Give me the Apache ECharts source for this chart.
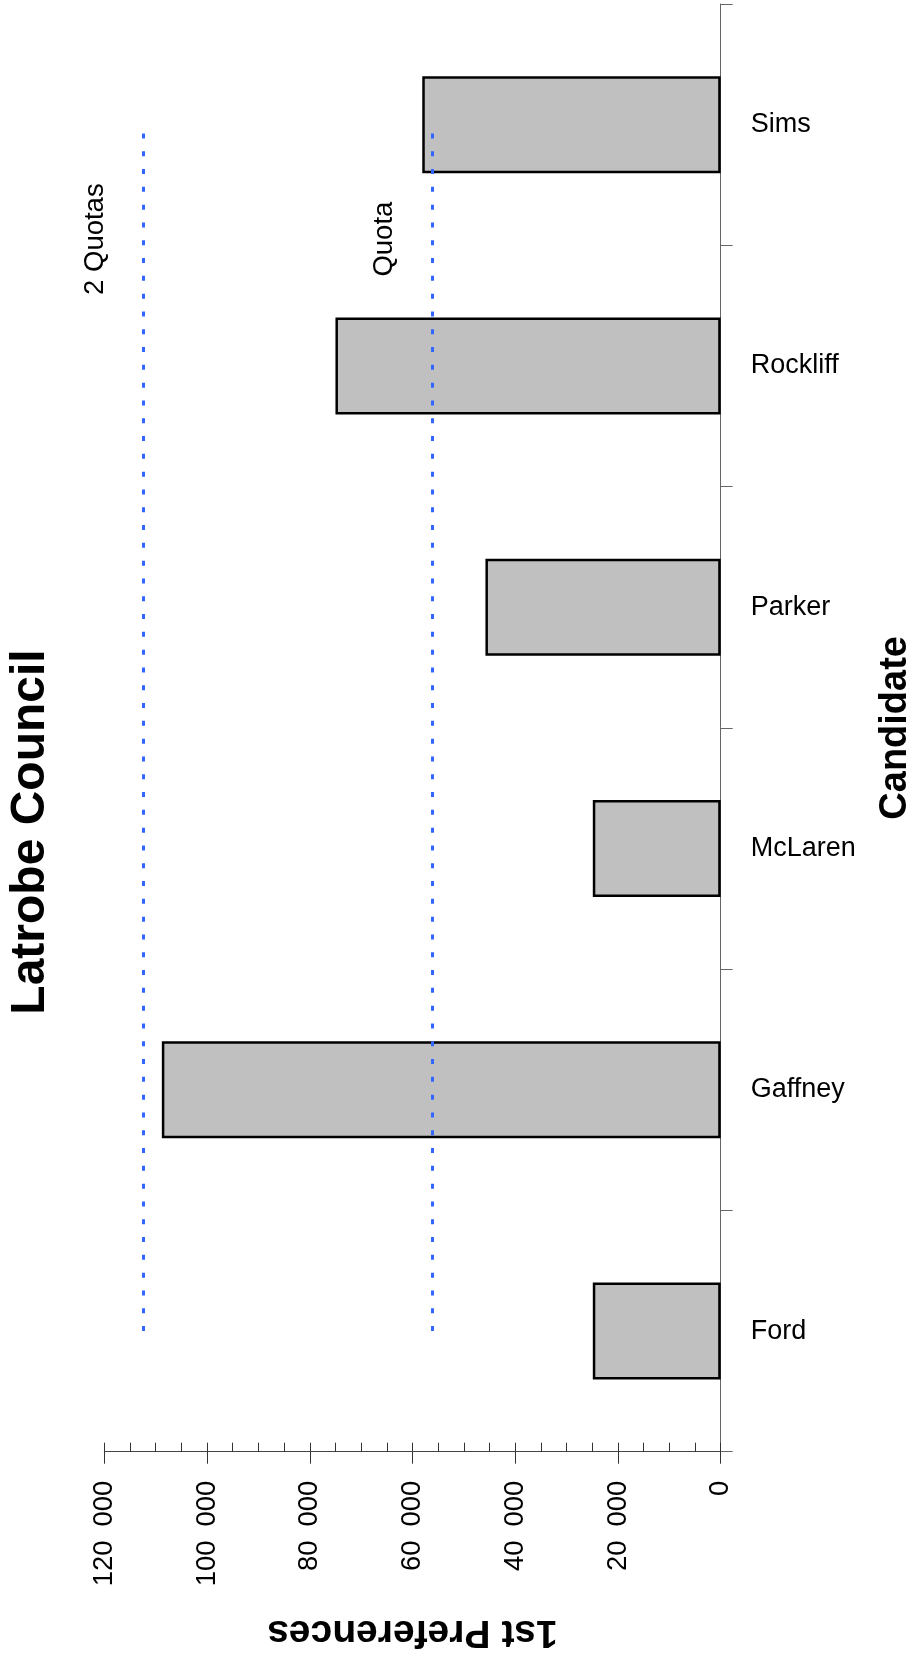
<!DOCTYPE html>
<html><head><meta charset="utf-8">
<script src="https://cdn.jsdelivr.net/npm/echarts@6/dist/echarts.min.js"></script>
<style>html,body{margin:0;padding:0;background:#fff}#c{width:919px;height:1659px}</style>
</head><body><div id="c"></div>
<script>
// ---- data ----
const categories = ['Ford', 'Gaffney', 'McLaren', 'Parker', 'Rockliff', 'Sims'];
const firstPreferences = [24900, 108800, 24900, 45800, 75000, 58100];
const quotaNames = ['Quota', '2 Quotas'];
const quotaValues = [56250, 112500];
const tickValues = [0, 20000, 40000, 60000, 80000, 100000, 120000];
const tickLabels = ['0', '20\u2002000', '40\u2002000', '60\u2002000', '80\u2002000', '100\u2002000', '120\u2002000'];
const chartTitle = 'Latrobe Council';
const valueAxisTitle = '1st Preferences';
const categoryAxisTitle = 'Candidate';

const NARROW = "'Liberation Sans Narrow','Arial Narrow','Liberation Sans',Arial,sans-serif";
const SANS = "'Liberation Sans',Arial,sans-serif";

const chart = echarts.init(document.getElementById('c'), null, {renderer: 'canvas'});
const vMin = tickValues[0], vMax = tickValues[tickValues.length - 1], vStep = tickValues[1] - tickValues[0];

chart.setOption({
  animation: false,
  backgroundColor: '#ffffff',
  grid: {left: 104.3, right: 198.3, top: 4, bottom: 207.3, containLabel: false},
  xAxis: [{
    type: 'value', position: 'bottom', inverse: true,
    min: vMin, max: vMax, interval: vStep,
    axisLine: {show: true, onZero: false, lineStyle: {color: '#444', width: 1}},
    axisTick: {show: true, inside: true, length: 9, lineStyle: {color: '#333', width: 1}},
    minorTick: {show: true, splitNumber: 4, length: 9, lineStyle: {color: '#333', width: 1}},
    splitLine: {show: false},
    axisLabel: {
      rotate: 90, margin: 29, color: '#000', fontFamily: NARROW, fontSize: 27.5,
      formatter: function (v) { const i = tickValues.indexOf(v); return i >= 0 ? tickLabels[i] : ''; }
    }
  }, {
    type: 'value', position: 'bottom', inverse: true,
    min: vMin, max: vMax, interval: vStep,
    axisLine: {show: false},
    axisTick: {show: true, inside: false, length: 12, lineStyle: {color: '#333', width: 1}},
    splitLine: {show: false},
    axisLabel: {show: false}
  }],
  yAxis: {
    type: 'category', data: categories, position: 'right', boundaryGap: true,
    axisLine: {show: true, onZero: false, lineStyle: {color: '#666', width: 1}},
    axisTick: {show: true, inside: false, length: 12, lineStyle: {color: '#666', width: 1}},
    splitLine: {show: false},
    axisLabel: {margin: 30, color: '#000', fontFamily: NARROW, fontSize: 27}
  },
  series: [{
    type: 'bar', xAxisIndex: 0, yAxisIndex: 0,
    data: firstPreferences, barWidth: 97,
    itemStyle: {color: '#c0c0c0', borderColor: '#000', borderWidth: 2.5},
    markLine: {
      silent: true, symbol: ['none', 'none'],
      label: {show: false},
      lineStyle: {color: '#3366ff', width: 3, type: [5, 12.8], opacity: 1},
      data: quotaValues.map(v => [{coord: [v, 0]}, {coord: [v, categories.length - 1]}])
    }
  }]
});

function txt(text, x, y, rot, font) {
  return {
    type: 'text', x: x, y: y, rotation: rot, silent: true,
    style: {text: text, font: font, fill: '#000', align: 'center', verticalAlign: 'middle',
            textAlign: 'center', textVerticalAlign: 'middle'}
  };
}
const topCat = chart.convertToPixel({gridIndex: 0}, [0, categories.length - 1]);
const botCat = chart.convertToPixel({gridIndex: 0}, [0, 0]);
const midY = (topCat[1] + botCat[1]) / 2;
const midVal = chart.convertToPixel({gridIndex: 0}, [(vMin + vMax) / 2, 0]);
const graphics = [
  txt(chartTitle, 30.5, 832, Math.PI / 2, 'bold 48px ' + SANS),
  txt(valueAxisTitle, midVal[0], 1632, Math.PI, 'bold 39px ' + SANS),
  txt(categoryAxisTitle, 896, midY, Math.PI / 2, 'bold 38px ' + SANS)
];
quotaValues.forEach((v, i) => {
  const p = chart.convertToPixel({gridIndex: 0}, [v, categories.length - 1]);
  graphics.push(txt(quotaNames[i], p[0] - 47, topCat[1] + 114.5, Math.PI / 2, '27.5px ' + NARROW));
});
chart.setOption({graphic: graphics});
</script>
</body></html>
